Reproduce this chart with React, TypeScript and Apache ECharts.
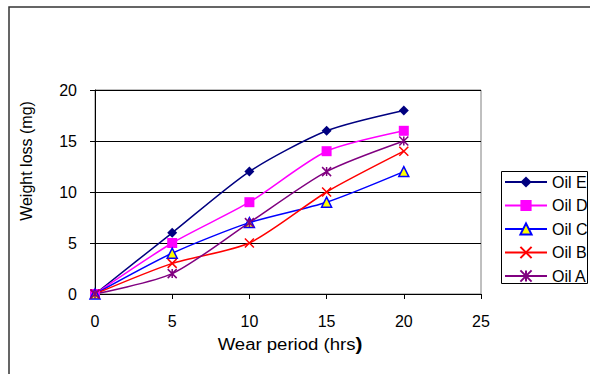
import React, { useEffect, useRef } from "react";
import * as echarts from "echarts";

const hours = [0, 5, 10, 15, 20];
const oilE = [0, 6, 12, 16, 18];
const oilD = [0, 5, 9, 14, 16];
const oilC = [0, 4, 7, 9, 12];
const oilB = [0, 3, 5, 10, 14];
const oilA = [0, 2, 7, 12, 15];
const seriesNames = ["Oil E", "Oil D", "Oil C", "Oil B", "Oil A"];

const FONT = "'Liberation Sans', Arial, sans-serif";

export default function App() {
  const ref = useRef<HTMLDivElement>(null);
  useEffect(() => {
    if (!ref.current) return;
    const chart = echarts.init(ref.current, null, { renderer: "svg" });
    const pts = (v: number[]) => hours.map((h, i) => [h, v[i]]);
    const xPath = "path://M0,0L10,10M10,0L0,10";
    const starPath = "path://M0,0L10,10M10,0L0,10M5,0L5,10";
    const mk = (
      name: string,
      vals: number[],
      color: string,
      symbol: string,
      size: number,
      item: any
    ) => ({
      name,
      type: "line",
      data: pts(vals),
      smooth: 0.25,
      symbol,
      symbolSize: size,
      showAllSymbol: true,
      lineStyle: { color, width: 1.5 },
      itemStyle: item,
      emphasis: { disabled: true },
    });
    chart.setOption({
      animation: false,
      textStyle: { fontFamily: FONT },
      grid: {
        left: 95,
        right: 109,
        top: 90,
        bottom: 80,
        show: true,
        borderColor: "#808080",
        borderWidth: 1,
        backgroundColor: "transparent",
      },
      xAxis: {
        type: "value",
        min: 0,
        max: 25,
        interval: 5,
        axisLine: { lineStyle: { color: "#000", width: 1 } },
        axisTick: { show: true, inside: false, length: 5, lineStyle: { color: "#000" } },
        axisLabel: { color: "#000", fontSize: 16, margin: 19, fontFamily: FONT },
        splitLine: { show: false },
      },
      yAxis: {
        type: "value",
        min: 0,
        max: 20,
        interval: 5,
        axisLine: { show: true, lineStyle: { color: "#000", width: 1 } },
        axisTick: { show: true, inside: false, length: 5, lineStyle: { color: "#000" } },
        axisLabel: { color: "#000", fontSize: 16, margin: 18, fontFamily: FONT },
        splitLine: { show: true, lineStyle: { color: "#000", width: 1 } },
      },
      legend: {
        orient: "vertical",
        left: 504,
        top: 174,
        padding: 0,
        itemWidth: 42,
        itemHeight: 14,
        itemGap: 7.5,
        data: seriesNames,
        textStyle: { fontSize: 16, color: "#000", fontFamily: FONT },
      },
      graphic: [
        {
          type: "rect",
          shape: { x: 9, y: 7, width: 700, height: 500 },
          style: { fill: "none", stroke: "#333", lineWidth: 1.5 },
          silent: true,
        },
        {
          type: "rect",
          shape: { x: 501.5, y: 171.5, width: 86, height: 112 },
          style: { fill: "#fff", stroke: "#000", lineWidth: 1 },
          z: -1,
          silent: true,
        },
        {
          type: "text",
          x: 26,
          y: 161,
          rotation: Math.PI / 2,
          style: {
            text: "Weight loss (mg)",
            fontSize: 16,
            fontFamily: FONT,
            fill: "#000",
            align: "center",
            verticalAlign: "middle",
          },
          silent: true,
        },
        {
          type: "text",
          x: 290,
          y: 344,
          scaleX: 1.16,
          style: {
            text: "{n|Wear period (hrs}{b|)}",
            fontFamily: FONT,
            fill: "#000",
            align: "center",
            verticalAlign: "middle",
            rich: {
              n: { fontSize: 16, fontFamily: FONT, fill: "#000" },
              b: { fontSize: 18, fontWeight: "bold", fontFamily: FONT, fill: "#000" },
            },
          },
          silent: true,
        },
      ],
      series: [
        mk("Oil E", oilE, "#000080", "diamond", 10, { color: "#000080" }),
        mk("Oil D", oilD, "#FF00FF", "rect", 10, { color: "#FF00FF" }),
        mk("Oil C", oilC, "#0000FF", "triangle", 10, {
          color: "#FFFF00",
          borderColor: "#0000FF",
          borderWidth: 1.5,
        }),
        mk("Oil B", oilB, "#FF0000", xPath, 9, {
          color: "#FF0000",
          borderColor: "#FF0000",
          borderWidth: 1.5,
        }),
        mk("Oil A", oilA, "#800080", starPath, 9, {
          color: "#800080",
          borderColor: "#800080",
          borderWidth: 1.5,
        }),
      ],
    });
    return () => chart.dispose();
  }, []);
  return (
    <div
      ref={ref}
      style={{ position: "fixed", left: 0, top: 0, width: 590, height: 374, background: "#fff" }}
    />
  );
}
